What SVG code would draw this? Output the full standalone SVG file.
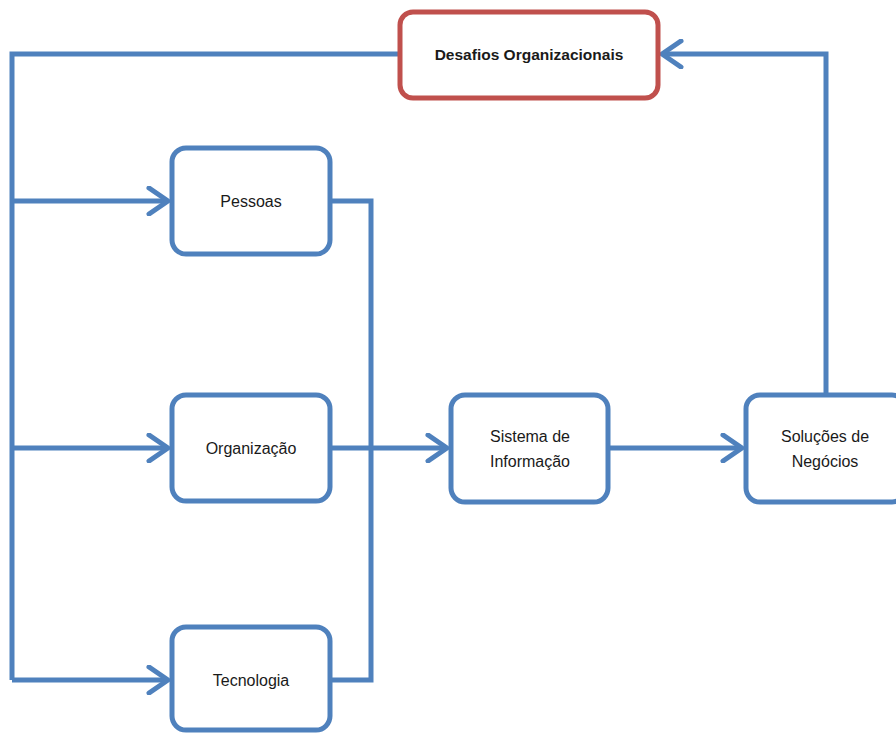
<svg xmlns="http://www.w3.org/2000/svg" width="896" height="734" viewBox="0 0 896 734">
<defs>
<style>
.box{fill:#fff;stroke:#4F81BD;stroke-width:5}
.red{fill:#fff;stroke:#C0504D;stroke-width:5}
.ln{fill:none;stroke:#4F81BD;stroke-width:5;stroke-linejoin:miter}
.t{font-family:"Liberation Sans",Arial,sans-serif;font-size:16px;fill:#1a1a1a;text-anchor:middle}
.b{font-weight:bold;font-size:15.5px}
</style>
<marker id="ah" viewBox="0 0 30 30" refX="24" refY="15" markerWidth="30" markerHeight="30" markerUnits="userSpaceOnUse" orient="auto">
<path d="M5 2 L24 15 L5 28" fill="none" stroke="#4F81BD" stroke-width="5" stroke-linecap="round" stroke-linejoin="round"/>
</marker>
</defs>
<rect width="896" height="734" fill="#fff"/>
<g id="connectors">
<path class="ln" d="M400 54 H12 V680"/>
<path class="ln" d="M12 201 H168" marker-end="url(#ah)"/>
<path class="ln" d="M12 448 H168" marker-end="url(#ah)"/>
<path class="ln" d="M12 680 H168" marker-end="url(#ah)"/>
<path class="ln" d="M330 201 H371 V680 H330"/>
<path class="ln" d="M330 448 H447" marker-end="url(#ah)"/>
<path class="ln" d="M608 448 H742" marker-end="url(#ah)"/>
<path class="ln" d="M826 395 V54 H662" marker-end="url(#ah)"/>
</g>
<g id="desafios"><rect class="red" x="400" y="12" width="258" height="86" rx="13"/><text class="t b" x="529" y="60">Desafios Organizacionais</text></g>
<g id="pessoas"><rect class="box" x="172" y="148" width="158" height="106" rx="14"/><text class="t" x="251" y="207">Pessoas</text></g>
<g id="organizacao"><rect class="box" x="172" y="395" width="158" height="106" rx="14"/><text class="t" x="251" y="454">Organização</text></g>
<g id="tecnologia"><rect class="box" x="172" y="627" width="158" height="103" rx="14"/><text class="t" x="251" y="686">Tecnologia</text></g>
<g id="sistema"><rect class="box" x="451" y="395" width="157" height="107" rx="14"/><text class="t" x="530" y="442">Sistema de</text><text class="t" x="530" y="467">Informação</text></g>
<g id="solucoes"><rect class="box" x="746" y="395" width="160" height="107" rx="14"/><text class="t" x="825" y="442">Soluções de</text><text class="t" x="825" y="467">Negócios</text></g>
</svg>
